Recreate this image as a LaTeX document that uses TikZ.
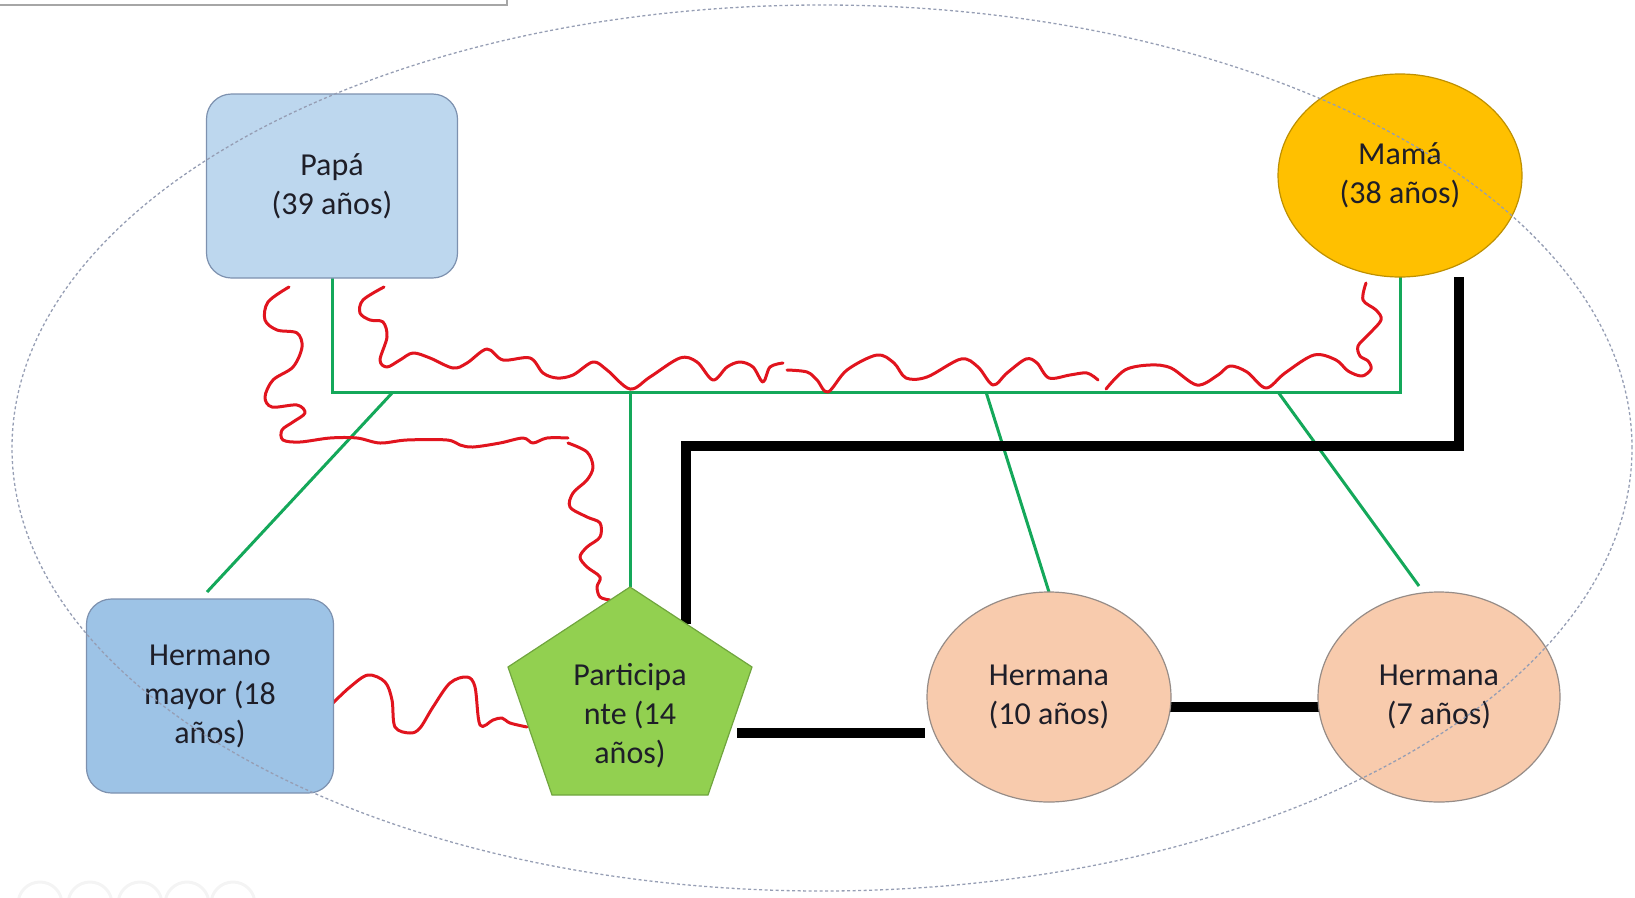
\documentclass[tikz,border=0pt]{standalone}
\usepackage{fontspec}
\setmainfont{Carlito}
\usetikzlibrary{shapes.geometric,calc}
\pgfdeclarelayer{bg}\pgfdeclarelayer{fg}
\pgfsetlayers{bg,main,fg}
\definecolor{txt}{RGB}{30,30,40}
\definecolor{papafill}{RGB}{189,215,238}
\definecolor{hmfill}{RGB}{157,195,230}
\definecolor{boxline}{RGB}{125,145,175}
\definecolor{mamafill}{RGB}{255,192,0}
\definecolor{mamaline}{RGB}{190,144,0}
\definecolor{sisfill}{RGB}{248,203,173}
\definecolor{sisline}{RGB}{150,140,135}
\definecolor{partfill}{RGB}{146,208,80}
\definecolor{partline}{RGB}{112,165,62}
\definecolor{linkgreen}{RGB}{20,168,90}
\definecolor{wavyred}{RGB}{225,20,30}
\definecolor{dashcol}{RGB}{150,158,180}
\begin{document}
\begin{tikzpicture}[x=1pt,y=-1pt,
  lbl/.style={font=\fontsize{32}{39}\selectfont, text=txt, align=center, inner sep=0pt, outer sep=0pt},
  rbox/.style={lbl, rectangle, rounded corners=25pt, draw=boxline, line width=1.2pt},
  oval/.style={lbl, ellipse, line width=1.2pt},
  greenlink/.style={draw=linkgreen, line width=3pt},
  blacklink/.style={draw=black, line width=10pt},
  wavy/.style={draw=wavyred, line width=3pt, line cap=round, line join=round},
]
\useasboundingbox (0,0) rectangle (1635,897);

% top-left partial frame
\draw[draw=gray!70, line width=2pt] (-20,-40) rectangle (507,5);
% faint marks bottom-left
\foreach \cx in {40,90,140,187,233}
  \draw[gray!9, line width=3pt] (\cx,904) circle (22);

% nodes
\node[rbox, fill=papafill, minimum width=251pt, minimum height=184pt] (papa) at (332,186) {Papá\\(39 años)};
\node[oval, fill=mamafill, draw=mamaline, minimum width=244pt, minimum height=203pt] (mama) at (1400,175.5) {Mamá\\(38 años)};
\node[rbox, fill=hmfill, minimum width=247pt, minimum height=194pt] (hm) at (210,696) {Hermano\\mayor (18\\años)};
\node[oval, fill=sisfill, draw=sisline, minimum width=244pt, minimum height=210pt] (h10) at (1049,697) {Hermana\\(10 años)};
\node[oval, fill=sisfill, draw=sisline, minimum width=242pt, minimum height=210pt] (h7) at (1439,697) {Hermana\\(7 años)};

% pentagon
\coordinate (pt) at (630,587);
\coordinate (pl) at (508,667);
\coordinate (pbl) at (552,795);
\coordinate (pbr) at (708,795);
\coordinate (pr) at (752,667);
\filldraw[fill=partfill, draw=partline, line width=1.2pt] (pt) -- (pr) -- (pbr) -- (pbl) -- (pl) -- cycle;
\node[lbl] (part) at (630,716) {Participa\\nte (14\\años)};

% connector coordinates
\coordinate (busL) at (332,392);
\coordinate (busR) at (1400,392);
\coordinate (b1) at (393,392);
\coordinate (b2) at (630,392);
\coordinate (b3) at (986,392);
\coordinate (b4) at (1278,392);
\coordinate (hmtop) at (207,592);
\coordinate (h7top) at (1419,586);
\coordinate (k1) at (1459,446);
\coordinate (k2) at (686,446);
\coordinate (pedge) at (686,624);
\coordinate (pright) at (737,733);
\coordinate (h10in) at (925,733);

\begin{pgfonlayer}{bg}
  % green family links
  \draw[greenlink] (papa.south) -- (busL) -- (busR) -- (mama.south);
  \draw[greenlink] (b1) -- (hmtop);
  \draw[greenlink] (b2) -- (pt);
  \draw[greenlink] (b3) -- (h10.north);
  \draw[greenlink] (b4) -- (h7top);
  % black strong links
  \draw[blacklink] ($(mama.south)+(59,0)$) -- (k1) -- (k2) -- (pedge);
  \draw[blacklink] (pright) -- (h10in);
  \draw[blacklink] ($(h10.east)+(-1,10)$) -- ($(h7.west)+(1,10)$);
  % red conflict lines
  \draw[wavy] plot[smooth, tension=0.55] coordinates {
    (289,287) (268,302) (265,320) (277,330) (297,333) (302,347) (293,367) (273,380)
    (265,397) (272,407) (297,405) (305,413) (293,422) (282,430) (283,440) (300,442)
    (330,438) (357,438) (380,443) (407,440) (447,440) (460,445) (473,447) (500,443)
    (523,438) (533,443) (547,438) (568,438)};
  \draw[wavy] plot[smooth, tension=0.55] coordinates {
    (568,443) (587,452) (593,467) (587,480) (573,493) (570,507) (587,517) (600,523)
    (600,537) (587,547) (580,557) (587,567) (600,577) (597,587) (600,597) (610,600)};
  \draw[wavy] plot[smooth, tension=0.55] coordinates {
    (384,287) (363,300) (360,313) (370,320) (383,322) (387,337) (380,360) (387,367)
    (400,360) (413,353) (430,358) (453,368) (467,363) (487,349) (503,360) (530,358)
    (543,373) (557,378) (573,375) (593,362) (607,370) (630,389) (650,377) (680,358)
    (697,362) (713,380) (727,367) (740,362) (753,367) (763,382) (770,367) (783,363)};
  \draw[wavy] plot[smooth, tension=0.55] coordinates {
    (787,370) (807,372) (817,380) (828,392) (847,370) (877,355) (894,363) (906,378)
    (927,377) (961,359) (978,367) (993,385) (1007,373) (1026,359) (1037,363) (1049,378)
    (1070,375) (1087,373) (1098,380)};
  \draw[wavy] plot[smooth, tension=0.55] coordinates {
    (1106,389) (1125,370) (1150,365) (1171,368) (1197,385) (1218,375) (1230,366)
    (1247,372) (1266,388) (1285,373) (1314,355) (1336,360) (1348,371) (1362,376)
    (1371,369) (1368,361) (1360,356) (1358,346) (1368,335) (1381,320) (1376,310)
    (1363,300) (1366,283)};
  \draw[wavy] plot[smooth, tension=0.55] coordinates {
    (333,703) (350,687) (368,675) (385,682) (392,700) (395,727) (410,733) (420,728)
    (433,707) (450,683) (467,677) (475,687) (480,725) (493,720) (502,718) (510,723)
    (527,727)};
\end{pgfonlayer}

\begin{pgfonlayer}{fg}
  \node[draw=dashcol, dash pattern=on 3pt off 2.5pt, line width=1.3pt, ellipse,
        minimum width=1620pt, minimum height=886pt, inner sep=0pt] (family) at (822,448) {};
\end{pgfonlayer}
\end{tikzpicture}
\end{document}
